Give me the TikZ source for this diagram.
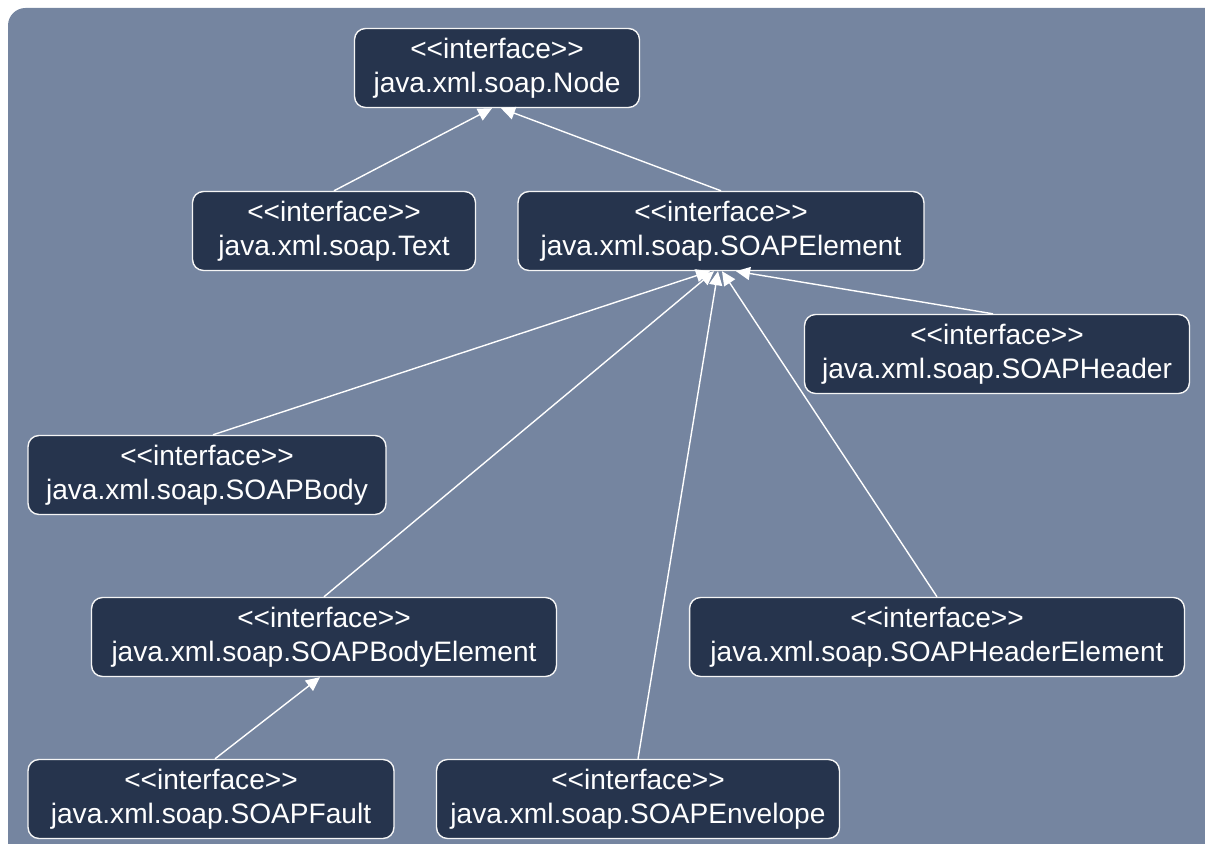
\documentclass[tikz,border=0pt]{standalone}
\usepackage{fontspec}
\setmainfont{Liberation Sans}
\usetikzlibrary{shapes,arrows.meta,positioning}

\definecolor{panelblue}{RGB}{117,133,160}
\definecolor{boxnavy}{RGB}{38,52,77}
\newcommand{\ifacetag}{<\kern0pt<interface>\kern0pt>}

\begin{document}
\begin{tikzpicture}[x=0.02cm,y=-0.02cm]
    \tikzstyle{iface} = [rectangle, rounded corners=0.22cm, draw=white!92!gray, line width=0.8pt, fill=boxnavy, text=white, align=center, minimum height=1.58cm, font=\fontsize{16}{19.5}\selectfont]
    \tikzstyle{arrow} = [white, line width=0.8pt, -{Triangle[width=0.26cm,length=0.28cm]}]

    \useasboundingbox (0,0) rectangle (1205,844);
    \fill [panelblue, rounded corners=0.35cm] (8,8) rectangle (1240,880);

    \node [iface, minimum width=5.7cm] (node) at (497,68) {\ifacetag\\java.xml.soap.Node};
    \node [iface, minimum width=5.66cm] (text) at (334,231) {\ifacetag\\java.xml.soap.Text};
    \node [iface, minimum width=8.12cm] (soapelement) at (721,231) {\ifacetag\\java.xml.soap.SOAPElement};
    \node [iface, minimum width=7.7cm] (soapheader) at (997,354) {\ifacetag\\java.xml.soap.SOAPHeader};
    \node [iface, minimum width=7.16cm] (soapbody) at (207,475) {\ifacetag\\java.xml.soap.SOAPBody};
    \node [iface, minimum width=9.3cm] (soapbodyelement) at (324,637) {\ifacetag\\java.xml.soap.SOAPBodyElement};
    \node [iface, minimum width=9.9cm] (soapheaderelement) at (937,637) {\ifacetag\\java.xml.soap.SOAPHeaderElement};
    \node [iface, minimum width=7.32cm] (soapfault) at (211,799) {\ifacetag\\java.xml.soap.SOAPFault};
    \node [iface, minimum width=8.06cm] (soapenvelope) at (638,799) {\ifacetag\\java.xml.soap.SOAPEnvelope};

    % generalisations
    \draw [arrow] (text.north) -- ([xshift=-0.1cm]node.south);
    \draw [arrow] (soapelement.north) -- ([xshift=0.08cm]node.south);
    \draw [arrow] ([xshift=0.12cm]soapbody.north) -- ([xshift=-0.22cm]soapelement.south);
    \draw [arrow] (soapbodyelement.north) -- ([xshift=-0.14cm]soapelement.south);
    \draw [arrow] (soapenvelope.north) -- ([xshift=-0.06cm]soapelement.south);
    \draw [arrow] (soapheaderelement.north) -- ([xshift=0.02cm]soapelement.south);
    \draw [arrow] ([xshift=-0.08cm]soapheader.north) -- ([xshift=0.3cm]soapelement.south);
    \draw [arrow] ([xshift=0.08cm]soapfault.north) -- ([xshift=-0.08cm]soapbodyelement.south);
\end{tikzpicture}
\end{document}
